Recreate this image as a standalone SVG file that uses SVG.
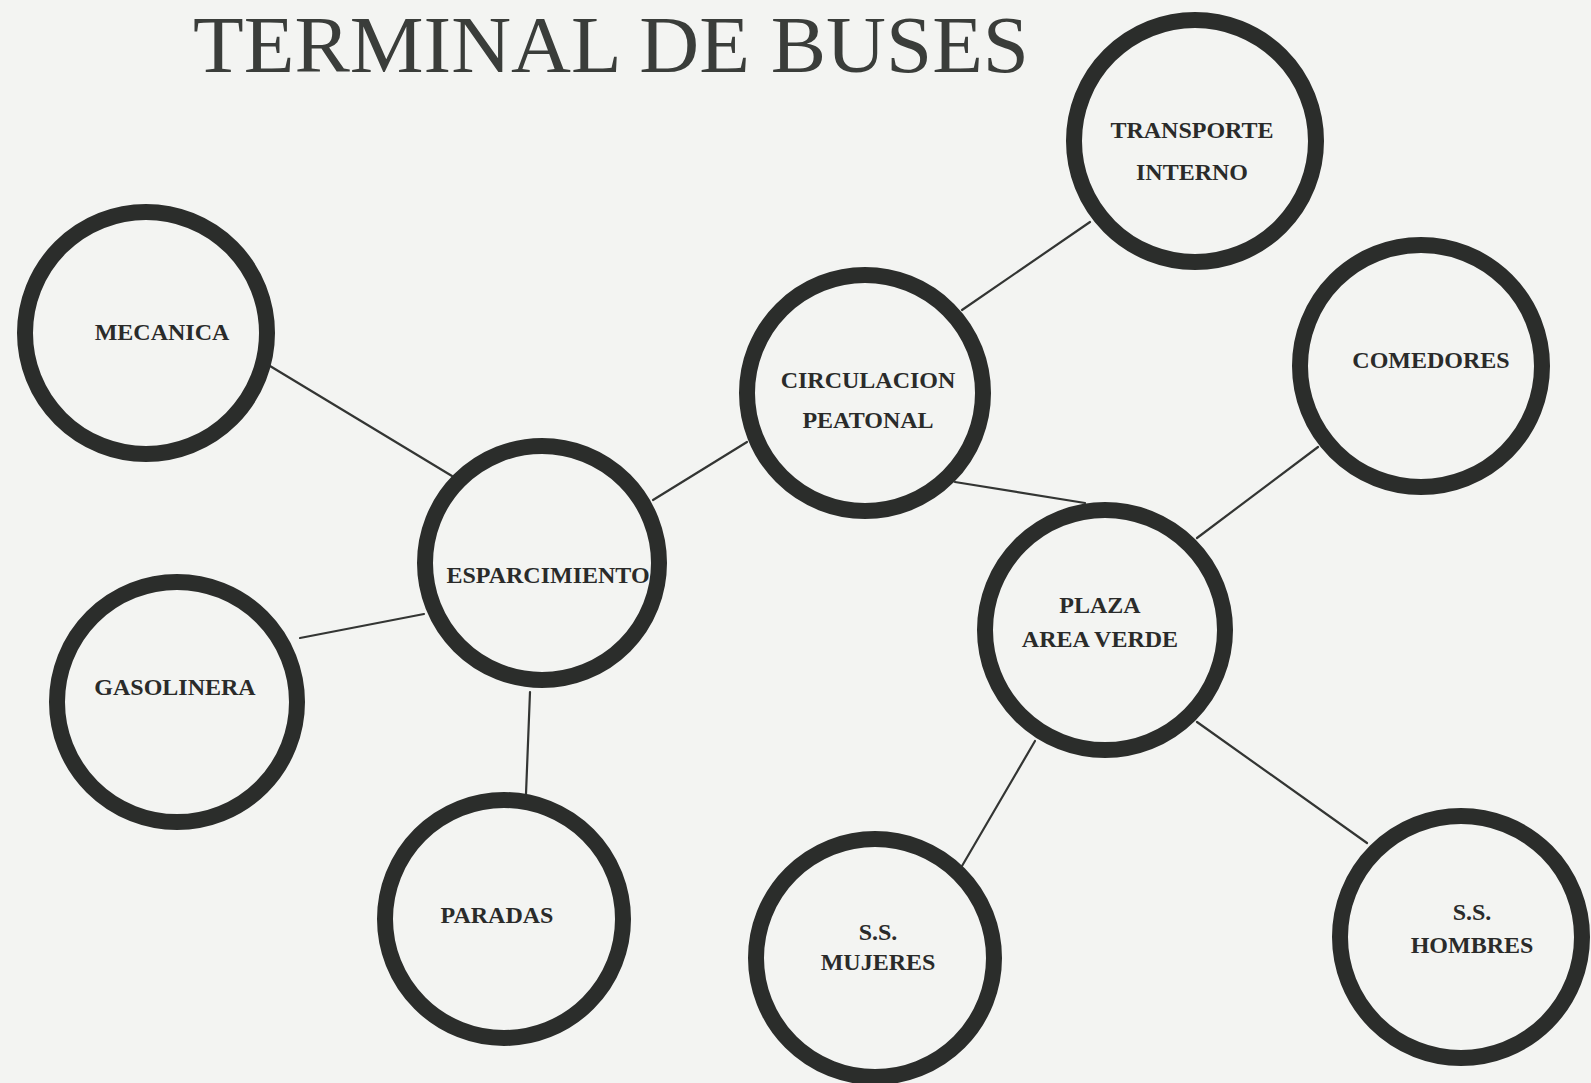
<svg xmlns="http://www.w3.org/2000/svg" width="1591" height="1083" viewBox="0 0 1591 1083">
  <style>
    .ring { fill: #f3f4f2; stroke: #2b2d2b; stroke-width: 16; }
    .conn { stroke: #333533; stroke-width: 2.2; fill: none; stroke-linecap: round; }
    .lbl { font-family: "Liberation Serif", "Times New Roman", serif; font-weight: bold; font-size: 24px; fill: #2a2b2a; text-anchor: middle; }
    .title { font-family: "Liberation Serif", "Times New Roman", serif; font-size: 80px; fill: #3a3d3a; }
  </style>
  <rect x="0" y="0" width="1591" height="1083" fill="#f3f4f2"/>
  <text class="title" x="193" y="72" textLength="836" lengthAdjust="spacingAndGlyphs">TERMINAL DE BUSES</text>

  <g id="connectors">
    <line class="conn" x1="270" y1="366" x2="452" y2="476"/>
    <line class="conn" x1="300" y1="638" x2="424" y2="614"/>
    <line class="conn" x1="530" y1="692" x2="526" y2="794"/>
    <line class="conn" x1="653" y1="500" x2="747" y2="442"/>
    <line class="conn" x1="962" y1="310" x2="1090" y2="222"/>
    <line class="conn" x1="955" y1="482" x2="1085" y2="503"/>
    <line class="conn" x1="1197" y1="538" x2="1318" y2="447"/>
    <line class="conn" x1="1035" y1="741" x2="962" y2="866"/>
    <line class="conn" x1="1197" y1="722" x2="1367" y2="843"/>
  </g>

  <g id="mecanica">
    <circle class="ring" cx="146" cy="333" r="121"/>
    <text class="lbl" x="162" y="340">MECANICA</text>
  </g>
  <g id="esparcimiento">
    <circle class="ring" cx="542" cy="563" r="117"/>
    <text class="lbl" x="548" y="583">ESPARCIMIENTO</text>
  </g>
  <g id="gasolinera">
    <circle class="ring" cx="177" cy="702" r="120"/>
    <text class="lbl" x="175" y="695">GASOLINERA</text>
  </g>
  <g id="paradas">
    <circle class="ring" cx="504" cy="919" r="119"/>
    <text class="lbl" x="497" y="923">PARADAS</text>
  </g>
  <g id="circulacion">
    <circle class="ring" cx="865" cy="393" r="118"/>
    <text class="lbl" x="868" y="388">CIRCULACION</text>
    <text class="lbl" x="868" y="428">PEATONAL</text>
  </g>
  <g id="transporte">
    <circle class="ring" cx="1195" cy="141" r="121"/>
    <text class="lbl" x="1192" y="138">TRANSPORTE</text>
    <text class="lbl" x="1192" y="180">INTERNO</text>
  </g>
  <g id="comedores">
    <circle class="ring" cx="1421" cy="366" r="121"/>
    <text class="lbl" x="1431" y="368">COMEDORES</text>
  </g>
  <g id="plaza">
    <circle class="ring" cx="1105" cy="630" r="120"/>
    <text class="lbl" x="1100" y="613">PLAZA</text>
    <text class="lbl" x="1100" y="647">AREA VERDE</text>
  </g>
  <g id="ss-mujeres">
    <circle class="ring" cx="875" cy="958" r="119"/>
    <text class="lbl" x="878" y="940">S.S.</text>
    <text class="lbl" x="878" y="970">MUJERES</text>
  </g>
  <g id="ss-hombres">
    <circle class="ring" cx="1461" cy="937" r="121"/>
    <text class="lbl" x="1472" y="920">S.S.</text>
    <text class="lbl" x="1472" y="953">HOMBRES</text>
  </g>
</svg>
